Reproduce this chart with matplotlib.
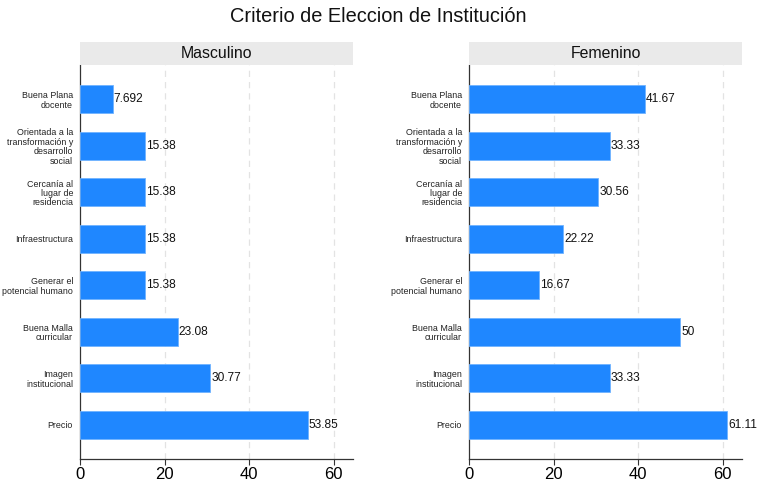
import matplotlib
matplotlib.use("Agg")
import matplotlib.pyplot as plt
from matplotlib.patches import Rectangle

plt.rcParams['font.family'] = ['Liberation Sans', 'DejaVu Sans']

categories = [
    "Buena Plana\ndocente",
    "Orientada a la\ntransformación y\ndesarrollo\nsocial",
    "Cercanía al\nlugar de\nresidencia",
    "Infraestructura",
    "Generar el\npotencial humano",
    "Buena Malla\ncurricular",
    "Imagen\ninstitucional",
    "Precio",
]
masculino = [7.692, 15.38, 15.38, 15.38, 15.38, 23.08, 30.77, 53.85]
femenino = [41.67, 33.33, 30.56, 22.22, 16.67, 50, 33.33, 61.11]
panels = ["Masculino", "Femenino"]
x_ticks = [0, 20, 40, 60]

bar_color = "#1f87ff"
fig = plt.figure(figsize=(7.57, 4.82), dpi=100)
fig.suptitle("Criterio de Eleccion de Institución", x=0.5, y=0.985,
             fontsize=14.4, color="#111111")

lefts = [80 / 757, 469 / 757]
width = 273 / 757
bottom = 23 / 482
height = 394 / 482
strip_h = 23 / 482

for left, name, vals in zip(lefts, panels, [masculino, femenino]):
    ax = fig.add_axes([left, bottom, width, height])
    ypos = list(range(len(categories)))
    ax.barh(ypos, vals, height=0.6, color=bar_color, edgecolor="#6fb3ff",
            linewidth=0.6, zorder=3)
    for y, v in zip(ypos, vals):
        ax.text(v + 0.25, y, f"{v:.4g}", va="center", ha="left",
                fontsize=8.6, color="#111111", zorder=4)
    ax.set_ylim(7.74, -0.74)
    ax.set_xlim(0, 64.6)
    ax.set_yticks(ypos)
    ax.set_yticklabels(categories, fontsize=6.4, linespacing=1.05,
                       color="#222222")
    ax.tick_params(axis="y", length=0, pad=5)
    ax.set_xticks(x_ticks)
    ax.tick_params(axis="x", labelsize=12, length=4, width=0.8,
                   color="#333333", pad=2)
    for s in ["top", "right"]:
        ax.spines[s].set_visible(False)
    for s in ["left", "bottom"]:
        ax.spines[s].set_color("#333333")
        ax.spines[s].set_linewidth(0.9)
    for t in x_ticks[1:]:
        ax.axvline(t, color="#e3e3e3", lw=0.9, ls=(0, (5, 4)), zorder=1)
    # facet strip
    fig.patches.append(Rectangle((left, bottom + height), width, strip_h,
                                 transform=fig.transFigure,
                                 facecolor="#eaeaea", edgecolor="none"))
    fig.text(left + width / 2, bottom + height + strip_h / 2, name,
             ha="center", va="center", fontsize=11.4, color="#111111")

fig.savefig("out.png", dpi=100)
